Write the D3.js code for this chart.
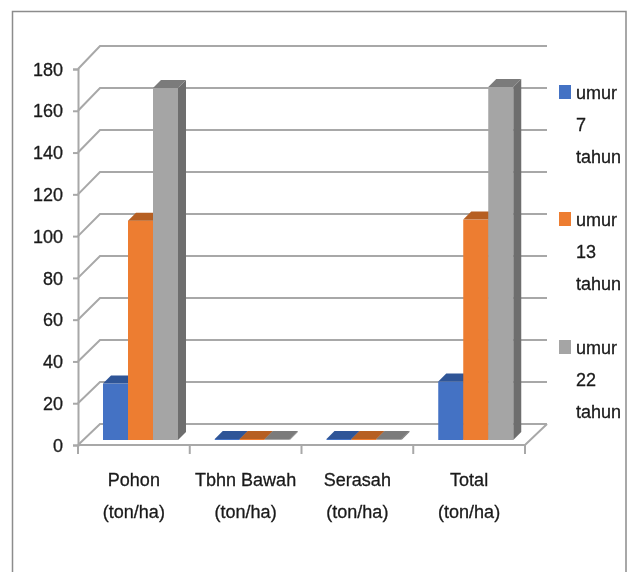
<!DOCTYPE html>
<html>
<head>
<meta charset="utf-8">
<script src="https://cdn.jsdelivr.net/npm/d3@7"></script>
<style>
  html, body { margin: 0; padding: 0; background: #fff; }
  svg { display: block; filter: blur(0.45px); }
  text { font-family: "Liberation Sans", sans-serif; fill: #1a1a1a; stroke: #1a1a1a; stroke-width: 0.3px; }
</style>
</head>
<body>
<div id="chart"></div>
<script>
const categories = ["Pohon", "Tbhn Bawah", "Serasah", "Total"];
const unitLabel = "(ton/ha)";
const seriesNames = ["7", "13", "22"];
const umur7 = [27, 0.5, 0.5, 28];
const umur13 = [105, 0.5, 0.5, 105.5];
const umur22 = [168.5, 0.5, 0.5, 169];
const yTicks = [0, 20, 40, 60, 80, 100, 120, 140, 160, 180];

const width = 630;
const height = 572;

const series = [
  { name: seriesNames[0], values: umur7, front: "#4472c4", top: "#2f5597", side: "#2f5597", legendY: 85 },
  { name: seriesNames[1], values: umur13, front: "#ed7d31", top: "#b65f22", side: "#b65f22", legendY: 212 },
  { name: seriesNames[2], values: umur22, front: "#a5a5a5", top: "#7b7b7b", side: "#6e6e6e", legendY: 340 }
];

const svg = d3.select("#chart")
  .append("svg")
  .attr("width", width)
  .attr("height", height);

// outer frame, the bottom edge is cropped off in the original
svg.append("path")
  .attr("d", "M12.5,572V11.5H626V572")
  .attr("fill", "none")
  .attr("stroke", "#8c8c8c")
  .attr("stroke-width", 1.5);

const x = d3.scaleBand().domain(categories).range([78, 525]);
const y = d3.scaleLinear().domain([0, 180]).range([445, 69]);
const yBack = d3.scaleLinear().domain([0, 180]).range([424, 46]);
const yBar = d3.scaleLinear().domain([0, 180]).range([440, 64]);
const xSeries = d3.scaleBand().domain(d3.range(series.length)).range([0, 75]);

const wallDx = 22;
const barDx = 31;
const depth = 8;
const gridColor = "#a8a8a8";

// gridlines on the side wall and back wall
yTicks.forEach(t => {
  svg.append("path")
    .attr("d", `M${x.range()[0]},${y(t)}L${x.range()[0] + wallDx},${yBack(t)}H${x.range()[1] + wallDx}`)
    .attr("fill", "none")
    .attr("stroke", gridColor)
    .attr("stroke-width", 2);
});

// floor
svg.append("path")
  .attr("d", `M${x.range()[0]},${y(0)}H${x.range()[1]}L${x.range()[1] + wallDx},${yBack(0)}`)
  .attr("fill", "none")
  .attr("stroke", gridColor)
  .attr("stroke-width", 2);

// y axis
const yAxis = svg.append("g")
  .attr("transform", `translate(${x.range()[0]},0)`)
  .call(d3.axisLeft(y).tickValues(yTicks).tickSize(5).tickPadding(10));
yAxis.select(".domain").attr("stroke", gridColor).attr("stroke-width", 2);
yAxis.selectAll(".tick line").attr("stroke", gridColor).attr("stroke-width", 2);
yAxis.selectAll("text").style("font-size", "18px").attr("dy", "0.34em");

// x axis ticks sit on the band edges
const edges = categories.map(c => x(c)).concat(x.range()[1]);
svg.selectAll(".xtick")
  .data(edges)
  .enter()
  .append("line")
  .attr("class", "xtick")
  .attr("x1", d => d)
  .attr("x2", d => d)
  .attr("y1", y(0))
  .attr("y2", y(0) + 9)
  .attr("stroke", gridColor)
  .attr("stroke-width", 2);

const xLabels = svg.selectAll(".xlabel")
  .data(categories)
  .enter()
  .append("text")
  .attr("class", "xlabel")
  .attr("text-anchor", "middle")
  .style("font-size", "18px");

xLabels.append("tspan")
  .attr("x", d => x(d) + x.bandwidth() / 2)
  .attr("y", 486)
  .text(d => d);
xLabels.append("tspan")
  .attr("x", d => x(d) + x.bandwidth() / 2)
  .attr("y", 518)
  .text(unitLabel);

// bars, left to right so each one covers the side of the previous
categories.forEach((cat, i) => {
  series.forEach((s, j) => {
    const x0 = x(cat) + barDx - 6 + xSeries(j);
    const x1 = x0 + xSeries.bandwidth();
    const yTop = yBar(s.values[i]);
    const yBase = yBar(0);

    svg.append("path")
      .attr("d", `M${x1},${yTop}l${depth},${-depth}V${yBase - depth}l${-depth},${depth}Z`)
      .attr("fill", s.side);
    svg.append("rect")
      .attr("x", x0)
      .attr("y", yTop)
      .attr("width", x1 - x0)
      .attr("height", yBase - yTop)
      .attr("fill", s.front);
    svg.append("path")
      .attr("d", `M${x0},${yTop}l${depth},${-depth}H${x1 + depth}l${-depth},${depth}Z`)
      .attr("fill", s.top);
  });
});

// legend, wrapped on three lines like the original
series.forEach(s => {
  svg.append("rect")
    .attr("x", 559)
    .attr("y", s.legendY)
    .attr("width", 12)
    .attr("height", 14)
    .attr("fill", s.front);

  ["umur", s.name, "tahun"].forEach((line, k) => {
    svg.append("text")
      .attr("x", 576)
      .attr("y", s.legendY + 14 + k * 32)
      .style("font-size", "18px")
      .text(line);
  });
});
</script>
</body>
</html>
